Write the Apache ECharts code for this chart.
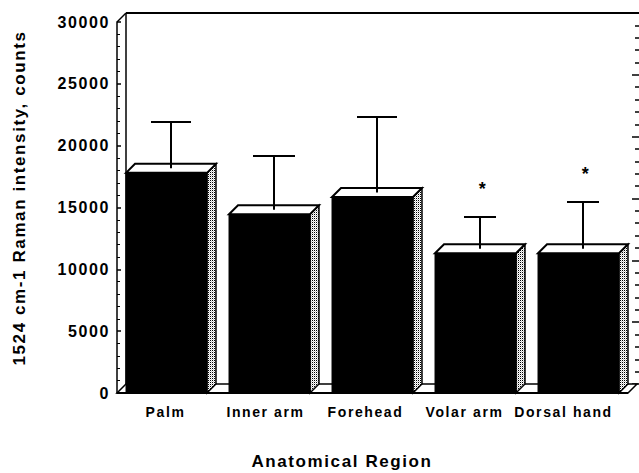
<!DOCTYPE html>
<html lang="en">
<head>
<meta charset="UTF-8">
<title>Raman intensity by anatomical region</title>
<script src="https://cdn.jsdelivr.net/npm/echarts/dist/echarts.min.js"></script>
<style>
    html, body { margin: 0; padding: 0; background: #fff; }
    #main { width: 639px; height: 473px; letter-spacing: 1.6px; }
</style>
</head>
<body>
<div id="main"></div>
<script>
    // data
    var regions = ['Palm', 'Inner arm', 'Forehead', 'Volar arm', 'Dorsal hand'];
    var meanIntensity = [17800, 14450, 15850, 11300, 11300];
    var sdIntensity = [3750, 4350, 6100, 2570, 3780];
    var significant = [0, 0, 0, 1, 1];   // '*' above the bar

    var FONT = '"Liberation Sans", Arial, Helvetica, sans-serif';
    var DX = 9, DY = -9;                  // 3d depth offset
    var capHalf = [20, 21, 20, 16, 16];
    var labelShift = [2, 8, 14, 22, 30];  // x labels sit a bit left of the bars

    // stippled fill for the side faces
    var dots = document.createElement('canvas');
    dots.width = 2; dots.height = 2;
    var dctx = dots.getContext('2d');
    dctx.fillStyle = '#fff'; dctx.fillRect(0, 0, 2, 2);
    dctx.fillStyle = '#000'; dctx.fillRect(0, 0, 1, 1);
    dctx.fillStyle = '#c8c8c8'; dctx.fillRect(1, 1, 1, 1);
    var stipple = {image: dots, repeat: 'repeat'};

    var chart = echarts.init(document.getElementById('main'), null, {renderer: 'svg'});

    // floor, back wall edges and top-left corner of the box
    function renderFrame(params, api) {
        var cs = params.coordSys;
        var xl = cs.x + 2, xr = cs.x + cs.width - 2, yb = cs.y + cs.height;
        return {
            type: 'group',
            children: [
                {type: 'polygon', shape: {points: [[xl, yb], [xl + DX, yb + DY], [xr + DX, yb + DY], [xr, yb]]},
                    style: {fill: '#fff', stroke: '#000', lineWidth: 1.5}},
                {type: 'line', shape: {x1: xl, y1: yb, x2: xr, y2: yb}, style: {stroke: '#000', lineWidth: 2}},
                {type: 'line', shape: {x1: xl, y1: cs.y, x2: xl + DX, y2: cs.y + DY}, style: {stroke: '#000', lineWidth: 1.5}},
                {type: 'line', shape: {x1: xl + DX, y1: cs.y + DY, x2: xl + DX, y2: yb + DY}, style: {stroke: '#000', lineWidth: 1.5}},
                {type: 'line', shape: {x1: xl + DX, y1: cs.y + DY, x2: 640, y2: cs.y + DY}, style: {stroke: '#000', lineWidth: 2}}
            ]
        };
    }

    function renderBar(params, api) {
        var i = api.value(0);
        var top = api.coord([i, api.value(1)]);
        var base = api.coord([i, 0]);
        var err = api.coord([i, api.value(1) + api.value(2)]);
        var w = api.size([1, 0])[0] * 0.786;
        var x0 = top[0] - w / 2, x1 = top[0] + w / 2;
        var yT = top[1], yB = base[1];
        var mx = top[0] + DX / 2, ye = err[1] + DY / 2;
        var ch = capHalf[i];
        var children = [
            {type: 'polygon', shape: {points: [[x1, yT], [x1 + DX, yT + DY], [x1 + DX, yB + DY], [x1, yB]]},
                style: {fill: stipple, stroke: '#000', lineWidth: 1.5}},
            {type: 'rect', shape: {x: x0, y: yT, width: w, height: yB - yT},
                style: {fill: '#000', stroke: '#000', lineWidth: 1}},
            {type: 'polygon', shape: {points: [[x0, yT], [x0 + DX, yT + DY], [x1 + DX, yT + DY], [x1, yT]]},
                style: {fill: '#fff', stroke: '#000', lineWidth: 2}},
            {type: 'line', shape: {x1: mx, y1: yT + DY / 2, x2: mx, y2: ye}, style: {stroke: '#000', lineWidth: 2}},
            {type: 'line', shape: {x1: mx - ch, y1: ye, x2: mx + ch, y2: ye}, style: {stroke: '#000', lineWidth: 2}}
        ];
        if (api.value(3)) {
            children.push({type: 'text', style: {text: '*', x: mx + 3, y: ye - 28, align: 'center', verticalAlign: 'middle',
                font: 'bold 18px ' + FONT, fill: '#000'}});
        }
        return {type: 'group', children: children};
    }

    var barData = regions.map(function (r, i) {
        return [i, meanIntensity[i], sdIntensity[i], significant[i]];
    });

    var rich = {};
    labelShift.forEach(function (p, i) {
        rich['p' + i] = {fontFamily: FONT, fontWeight: 'bold', fontSize: 14, color: '#000', padding: [0, p, 0, 0]};
    });

    var option = {
        animation: false,
        backgroundColor: '#fff',
        grid: [
            {left: 115, top: 22, width: 515, height: 371, outerBoundsMode: 'none'},
            {left: 126, top: 13, width: 513, height: 371, outerBoundsMode: 'none'}
        ],
        xAxis: [
            {
                type: 'category', gridIndex: 0, data: regions,
                axisLine: {show: false}, axisTick: {show: false},
                axisLabel: {
                    margin: 12, interval: 0,
                    formatter: function (v, i) { return '{p' + i + '|' + v + '}'; },
                    rich: rich
                },
                name: 'Anatomical Region', nameLocation: 'middle', nameGap: 60,
                nameTextStyle: {fontFamily: FONT, fontWeight: 'bold', fontSize: 17, color: '#000', padding: [0, 61, 0, 0]}
            },
            {
                type: 'value', gridIndex: 1, min: 0, max: 1, show: false
            }
        ],
        yAxis: [
            {
                type: 'value', gridIndex: 0, min: 0, max: 30000, interval: 5000, offset: -2,
                axisLine: {show: true, lineStyle: {color: '#000', width: 1.5}},
                axisTick: {show: true, inside: true, length: 4, lineStyle: {color: '#000', width: 1.5}},
                minorTick: {show: true, splitNumber: 5, length: 3, lineStyle: {color: '#000', width: 1}},
                splitLine: {show: false},
                axisLabel: {
                    margin: 7, fontFamily: FONT, fontWeight: 'bold', fontSize: 16, color: '#000', padding: [7, 0, 0, 0],
                    formatter: function (v) { return String(v); }
                },
                name: '1524 cm-1 Raman intensity, counts', nameLocation: 'middle', nameGap: 89, nameRotate: 90,
                nameTextStyle: {fontFamily: FONT, fontWeight: 'bold', fontSize: 17, color: '#000', padding: [0, 0, 0, 19]}
            },
            {
                // ticks on the right edge of the back wall
                type: 'value', gridIndex: 1, position: 'right', min: 0, max: 30000, interval: 5000,
                axisLine: {show: false, onZero: false},
                axisTick: {show: true, inside: true, length: 7, lineStyle: {color: '#000', width: 1.5}},
                minorTick: {show: true, splitNumber: 5, length: 4, lineStyle: {color: '#000', width: 1.5}},
                axisLabel: {show: false}, splitLine: {show: false}
            }
        ],
        series: [
            {
                type: 'custom', xAxisIndex: 0, yAxisIndex: 0, z: 1, silent: true,
                renderItem: renderFrame, data: [[0, 0]], clip: false
            },
            {
                name: 'Raman intensity', type: 'custom', xAxisIndex: 0, yAxisIndex: 0, z: 3,
                renderItem: renderBar, data: barData, encode: {x: 0, y: 1}, clip: false
            }
        ]
    };
    chart.setOption(option);
</script>
</body>
</html>
